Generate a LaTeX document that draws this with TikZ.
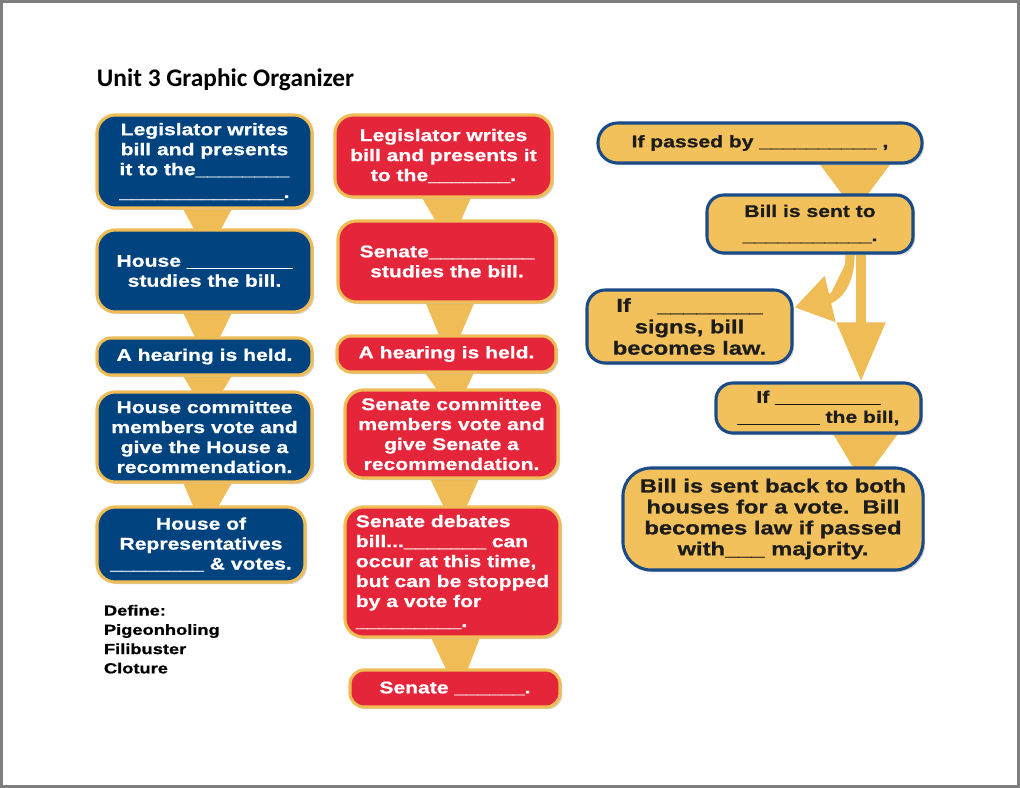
\documentclass[tikz,border=0pt]{standalone}
\usepackage{fontspec}
\usetikzlibrary{arrows.meta,calc,shadows,backgrounds}
\newfontfamily\orgfont{Liberation Sans Bold}[FakeStretch=1.25,FakeBold=0.8]
\newfontfamily\titlefont{Carlito Bold}
\definecolor{house}{HTML}{00437F}
\definecolor{senate}{HTML}{E4253A}
\definecolor{gold}{HTML}{F0BC55}
\definecolor{exec}{HTML}{F3C15C}
\definecolor{navy}{HTML}{1B4B87}
\definecolor{ink}{HTML}{1C1C1C}
\definecolor{frame}{HTML}{7F7F7F}

\begin{document}
\begin{tikzpicture}[x=0.025cm,y=-0.025cm,
  box/.style={draw=gold,line width=2.2pt,rounded corners=13pt,align=center,inner sep=2pt,
    text=white,font=\orgfont\fontsize{12}{14.2}\selectfont,
    drop shadow={shadow xshift=1.5pt,shadow yshift=-1.5pt,opacity=0.35}},
  housebox/.style={box,fill=house},
  senatebox/.style={box,fill=senate},
  finalbox/.style={box,draw=navy,fill=exec,text=ink},
  funnel/.style={fill=gold},
  bigarrow/.style={draw=gold,fill=gold}]

  \useasboundingbox (0,0) rectangle (1020,788);
  \node[anchor=west,font=\titlefont\fontsize{18}{20}\selectfont] (title) at (92,80) {Unit 3 Graphic Organizer};

  % House path
  \node[housebox,minimum width=5.375cm,minimum height=2.325cm] (h1) at (204.5,161.5)
    {Legislator writes\\bill and presents\\it to the\_\_\_\_\_\_\_\_\\[2pt]\_\_\_\_\_\_\_\_\_\_\_\_\_\_.};
  \node[housebox,minimum width=5.375cm,minimum height=2.05cm] (h2) at (204.5,271)
    {House \_\_\_\_\_\_\_\_\_\\studies the bill.};
  \node[housebox,rounded corners=10pt,minimum width=5.375cm,minimum height=0.925cm] (h3) at (204.5,356.5)
    {A hearing is held.};
  \node[housebox,minimum width=5.375cm,minimum height=2.25cm] (h4) at (204.5,437)
    {House committee\\members vote and\\give the House a\\recommendation.};
  \node[housebox,minimum width=5.2cm,minimum height=1.875cm] (h5) at (201,544.5)
    {House of\\Representatives\\\_\_\_\_\_\_\_\_ \& votes.};
  \node[anchor=north west,align=left,text=black,font=\orgfont\fontsize{10.4}{13.7}\selectfont] (terms) at (99,600)
    {Define:\\Pigeonholing\\Filibuster\\Cloture};

  % Senate path
  \node[senatebox,minimum width=5.425cm,minimum height=2.05cm] (s1) at (443.5,156)
    {Legislator writes\\bill and presents it\\to the\_\_\_\_\_\_\_.};
  \node[senatebox,minimum width=5.45cm,minimum height=2.025cm] (s2) at (447,261.5)
    {Senate\_\_\_\_\_\_\_\_\_\\studies the bill.};
  \node[senatebox,rounded corners=10pt,minimum width=5.475cm,minimum height=0.9cm] (s3) at (446.5,354)
    {A hearing is held.};
  \node[senatebox,minimum width=5.325cm,minimum height=2.2cm] (s4) at (451.5,434)
    {Senate committee\\members vote and\\give Senate a\\recommendation.};
  \node[senatebox,align=left,minimum width=5.375cm,minimum height=3.25cm] (s5) at (452.5,572)
    {Senate debates\\bill...\_\_\_\_\_\_\_ can\\occur at this time,\\but can be stopped\\by a vote for\\\_\_\_\_\_\_\_\_\_.};
  \node[senatebox,rounded corners=10pt,minimum width=5.25cm,minimum height=0.925cm] (s6) at (455,688.5)
    {Senate \_\_\_\_\_\_.};

  % President path
  \node[finalbox,rounded corners=14pt,minimum width=8.1cm,minimum height=1cm] (p1) at (760,143)
    {If passed by \_\_\_\_\_\_\_\_\_\_ ,};
  \node[finalbox,rounded corners=12pt,minimum width=5.15cm,minimum height=1.45cm] (p2) at (810,224)
    {Bill is sent to\\[3pt]\_\_\_\_\_\_\_\_\_\_\_.};
  \node[finalbox,font=\orgfont\fontsize{13.5}{15.2}\selectfont,minimum width=5.125cm,minimum height=1.825cm] (p3) at (689.5,326.5)
    {If\ \ \ \ \_\_\_\_\_\_\_\_\hspace{1.2em}\\signs, bill\\becomes law.};
  \node[finalbox,rounded corners=12pt,minimum width=5.125cm,minimum height=1.25cm] (p4) at (818.5,408)
    {If \_\_\_\_\_\_\_\_\_\\\_\_\_\_\_\_\_ the bill,};
  \node[finalbox,rounded corners=20pt,font=\orgfont\fontsize{13.5}{14.9}\selectfont,minimum width=7.5cm,minimum height=2.55cm] (p5) at (773,519)
    {Bill is sent back to both\\houses for a vote.\ \ Bill\\becomes law if passed\\with\_\_\_ majority.};

  \begin{scope}[on background layer]
    % page
    \fill[frame] (0,0) rectangle (1020,788);
    \fill[white] (3,3) rectangle (1017,785);

    % funnels between steps
    \foreach \a/\b in {h1/h2,h2/h3,h3/h4,h4/h5,s1/s2,s2/s3,s3/s4,s4/s5,s5/s6}
      \fill[funnel] ($(\a.south)+(-21,0)$) -- ($(\a.south)+(27,0)$) -- ($(\b.north)+(3,26)$) -- cycle;
    \fill[funnel] ($(p1.south)+(60,0)$) -- ($(p1.south)+(130,0)$) -- ($(p2.north)+(45,18)$) -- cycle;
    \fill[funnel] ($(p4.south)+(15,0)$) -- ($(p4.south)+(79,0)$) -- ($(p5.north)+(89,16)$) -- cycle;

    % veto / sign arrows
    \draw[bigarrow,line width=6.5pt,-{Triangle[length=26pt,width=32pt]}]
      ($(p2.south)+(40,0)$) .. controls ($(p2.south)+(40,35)$) and ($(p2.south)+(22,44)$) .. ($(p3.north east)+(1,19)$);
    \draw[bigarrow,line width=7pt,-{Triangle[length=42pt,width=33pt]}]
      ($(p2.south)+(51,0)$) -- ($(p4.north)+(42.5,0)$);
  \end{scope}
\end{tikzpicture}
\end{document}
